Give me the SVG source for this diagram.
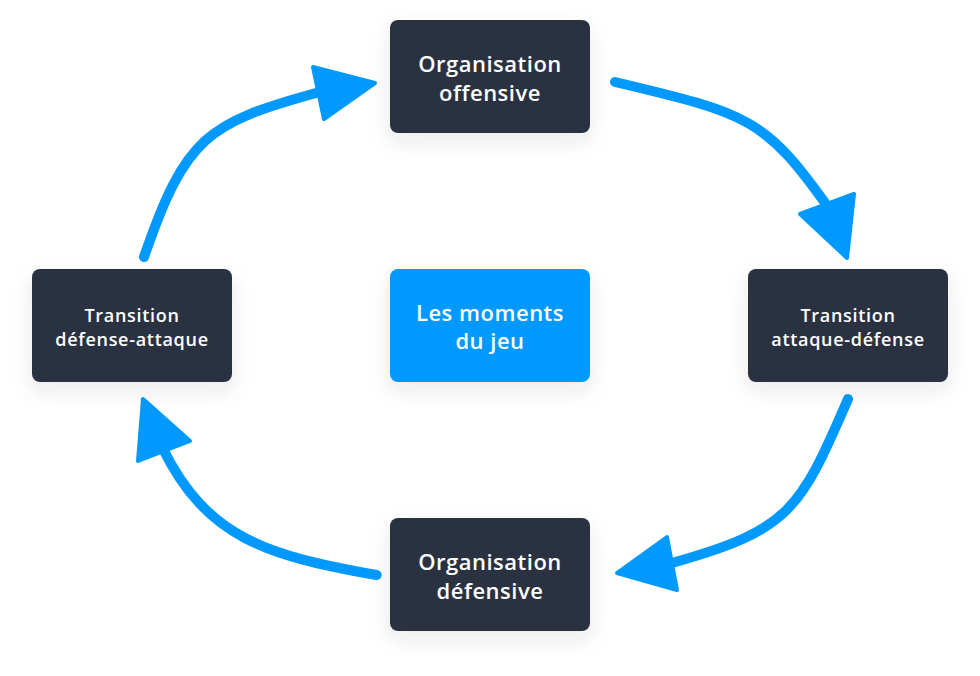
<svg xmlns="http://www.w3.org/2000/svg" width="980" height="676" viewBox="0 0 980 676">
  <defs>
    <filter id="sh" x="-30%" y="-30%" width="160%" height="170%">
      <feDropShadow dx="0" dy="8" stdDeviation="10" flood-color="#283241" flood-opacity="0.10"/>
    </filter>
    <style>
      .box { fill: #293242; filter: url(#sh); }
      .center { fill: #0099ff; filter: url(#sh); }
      .big { font-family: "Open Sans", "Noto Sans", sans-serif; font-weight: 600; font-size: 22px; letter-spacing: 0.5px; fill: #ffffff; text-anchor: middle; }
      .small { font-family: "Open Sans", "Noto Sans", sans-serif; font-weight: 600; font-size: 18px; letter-spacing: 0.7px; fill: #ffffff; text-anchor: middle; }
      .shaft { fill: none; stroke: #0099ff; stroke-width: 10; stroke-linecap: round; }
      .head { fill: #0099ff; stroke: #0099ff; stroke-width: 4; stroke-linejoin: round; }
    </style>
  </defs>
  <rect width="980" height="676" fill="#ffffff"/>
  <g id="connectors">
    <path class="shaft" d="M144,257 C185.5,136.3 207.8,123 316,93"/>
    <polygon class="head" points="313,67 375,83 324,119"/>
    <path class="shaft" d="M615,82 C750,114 765,118 830,210"/>
    <polygon class="head" points="800,214 854,194 847,258"/>
    <path class="shaft" d="M848,399 C800,510 790,530 672,563"/>
    <polygon class="head" points="667,537 617,573 677,590"/>
    <path class="shaft" d="M376.7,575 C266,555.4 207.4,537.9 163,449"/>
    <polygon class="head" points="143,399 190,441 138,461"/>
  </g>
  <g id="node-org-off">
    <rect class="box" x="390" y="20" width="200" height="113" rx="8"/>
    <text class="big" x="490" y="72">Organisation</text>
    <text class="big" x="490" y="101">offensive</text>
  </g>
  <g id="node-trans-da">
    <rect class="box" x="32" y="269" width="200" height="113" rx="8"/>
    <text class="small" x="132" y="322">Transition</text>
    <text class="small" x="132" y="346">défense-attaque</text>
  </g>
  <g id="node-center">
    <rect class="center" x="390" y="269" width="200" height="113" rx="8"/>
    <text class="big" x="490" y="321">Les moments</text>
    <text class="big" x="490" y="349">du jeu</text>
  </g>
  <g id="node-trans-ad">
    <rect class="box" x="748" y="269" width="200" height="113" rx="8"/>
    <text class="small" x="848" y="322">Transition</text>
    <text class="small" x="848" y="346">attaque-défense</text>
  </g>
  <g id="node-org-def">
    <rect class="box" x="390" y="518" width="200" height="113" rx="8"/>
    <text class="big" x="490" y="570">Organisation</text>
    <text class="big" x="490" y="599">défensive</text>
  </g>
</svg>
